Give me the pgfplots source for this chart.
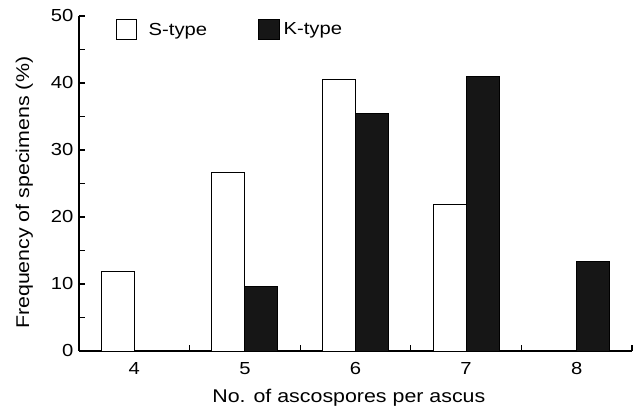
\documentclass[border=0pt]{standalone}
\usepackage{fontspec}
\setmainfont{Liberation Sans}[FakeStretch=1.16]
\usepackage{pgfplots}
\pgfplotsset{compat=1.18}
\definecolor{kfill}{HTML}{161616}
\pgfplotsset{
  simage/.style={legend image code/.code={\draw[##1, line width=1bp] (0bp,-10bp) rectangle (20bp,10bp); \path[draw=none,fill=none] (0bp,0bp) rectangle (32bp,0.1bp);}},
  kimage/.style={legend image code/.code={\draw[##1] (0bp,-10bp) rectangle (21bp,10bp); \path[draw=none,fill=none] (0bp,0bp) rectangle (25bp,0.1bp);}},
}
\begin{document}
\begin{tikzpicture}
\begin{axis}[
  scale only axis, width=553bp, height=335bp,
  xmin=3.5, xmax=8.5, ymin=0, ymax=50,
  axis lines=left, axis line style={-, line width=1.3bp, black},
  ytick={0,10,...,50}, minor ytick={5,15,...,45},
  xtick={4.5,5.5,6.5,7.5,8.5}, xticklabels={},
  extra x ticks={4,5,6,7,8}, extra x tick labels={4,5,6,7,8},
  extra x tick style={major tick length=0pt},
  tick align=inside, major tick length=6bp, minor tick length=6bp,
  tick style={black, line width=1.1bp},
  /pgf/number format/assume math mode=true,
  tick label style={font=\fontsize{17.5}{20}\selectfont},
  yticklabel style={xshift=-2bp},
  xticklabel style={yshift=-8bp},
  xlabel={No. of ascospores per ascus},
  ylabel={Frequency of specimens (\%)},
  label style={font=\fontsize{18.5}{21}\selectfont},
  xlabel style={at={(axis description cs:0.488,-0.14)}, anchor=center},
  ylabel style={at={(axis description cs:-0.099,0.472)}, anchor=center},
  legend style={at={(rel axis cs:0,1)}, anchor=north west, xshift=37bp, yshift=-3bp,
    draw=none, fill=none, inner sep=0pt, font=\fontsize{17.5}{20}\selectfont,
    nodes={inner sep=0pt},
    /tikz/every even column/.append style={column sep=51bp}},
  legend columns=2,
]
\addplot[ybar, bar width=33bp, bar shift=-16.5bp, draw=black, fill=white, line width=0.9bp, simage]
  coordinates {(4,11.8) (5,26.6) (6,40.6) (7,21.9)};
\addlegendentry{S-type}
\addplot[ybar, bar width=33bp, bar shift=16.5bp, draw=black, fill=kfill, line width=0.9bp, kimage]
  coordinates {(5,9.7) (6,35.5) (7,41.0) (8,13.3)};
\addlegendentry{K-type}
\path (rel axis cs:0,0) coordinate (O);
\path (rel axis cs:1,1) coordinate (T);
\end{axis}
\pgfresetboundingbox
\path ([xshift=-79bp,yshift=-61bp]O) rectangle ([xshift=6bp,yshift=16bp]T);
\end{tikzpicture}
\end{document}
